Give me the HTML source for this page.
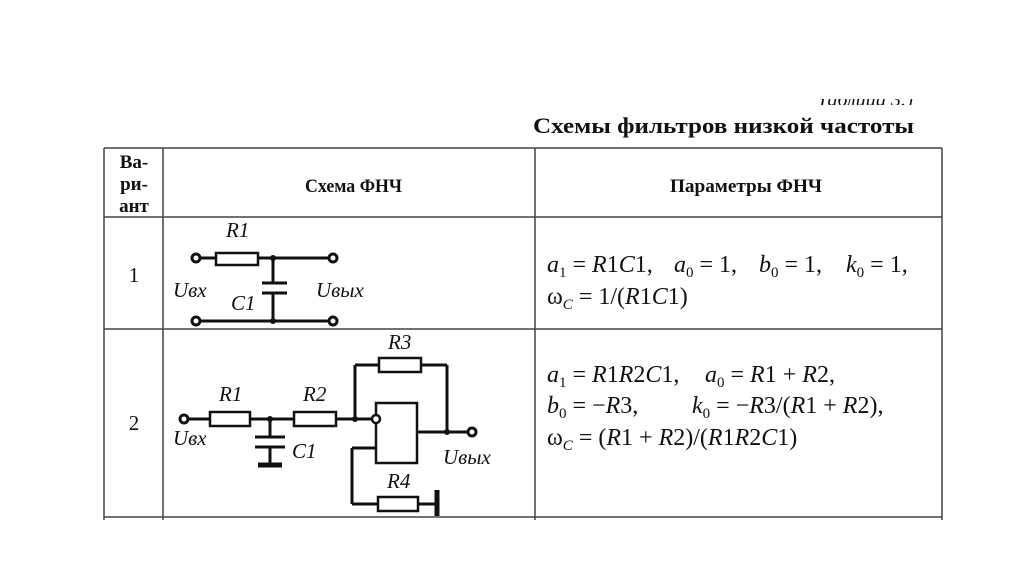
<!DOCTYPE html>
<html><head><meta charset="utf-8"><style>
html,body{margin:0;padding:0;background:#fff;}
svg{display:block;}
text{font-family:"Liberation Serif",serif;fill:#111;}
</style></head><body>
<svg width="1024" height="574" viewBox="0 0 1024 574" xmlns="http://www.w3.org/2000/svg">
<defs><clipPath id="cp"><rect x="700" y="99" width="300" height="6"/></clipPath></defs>
<text x="916" y="106" font-size="20" text-anchor="end" clip-path="url(#cp)" font-style="italic">Таблица 3.1</text>
<text x="533" y="133" font-size="22" font-weight="bold" textLength="381" lengthAdjust="spacingAndGlyphs">Схемы фильтров низкой частоты</text>
<g stroke="#444" stroke-width="1.5" fill="none">
<line x1="104" y1="148" x2="942" y2="148"/>
<line x1="104" y1="217" x2="942" y2="217"/>
<line x1="104" y1="329" x2="942" y2="329"/>
<line x1="104" y1="517" x2="942" y2="517"/>
<line x1="104" y1="148" x2="104" y2="520"/>
<line x1="163" y1="148" x2="163" y2="520"/>
<line x1="535" y1="148" x2="535" y2="520"/>
<line x1="942" y1="148" x2="942" y2="520"/>
</g>
<g font-size="19" font-weight="bold" text-anchor="middle">
<text x="134" y="168">Ва-</text><text x="134" y="190">ри-</text><text x="134" y="212">ант</text>
</g>
<g font-size="19" font-weight="bold">
<text x="305" y="192" textLength="97" lengthAdjust="spacingAndGlyphs">Схема ФНЧ</text>
<text x="670" y="192" textLength="152" lengthAdjust="spacingAndGlyphs">Параметры ФНЧ</text>
</g>
<text x="134" y="282" font-size="21" text-anchor="middle">1</text>
<text x="134" y="430" font-size="21" text-anchor="middle">2</text>
<!-- circuit 1 -->
<g stroke="#111" stroke-width="3" fill="none">
<line x1="200" y1="258" x2="216" y2="258"/>
<rect x="216" y="253" width="42" height="12" stroke-width="2.5"/>
<line x1="258" y1="258" x2="329" y2="258"/>
<line x1="273" y1="258" x2="273" y2="283"/>
<line x1="262" y1="283" x2="287" y2="283"/>
<line x1="262" y1="293" x2="287" y2="293"/>
<line x1="273" y1="293" x2="273" y2="321"/>
<line x1="200" y1="321" x2="329" y2="321"/>
<circle cx="196" cy="258" r="4" fill="#fff"/><circle cx="333" cy="258" r="4" fill="#fff"/>
<circle cx="196" cy="321" r="4" fill="#fff"/><circle cx="333" cy="321" r="4" fill="#fff"/>
</g>
<circle cx="273" cy="258" r="3" fill="#111"/><circle cx="273" cy="321" r="3" fill="#111"/>
<g font-size="21" font-style="italic">
<text x="226" y="237">R1</text>
<text x="173" y="297">Uвх</text>
<text x="231" y="310">C1</text>
<text x="316" y="297">Uвых</text>
</g>
<!-- circuit 2 -->
<g stroke="#111" stroke-width="3" fill="none">
<line x1="188" y1="419" x2="210" y2="419"/>
<rect x="210" y="412" width="40" height="14" stroke-width="2.5"/>
<line x1="250" y1="419" x2="294" y2="419"/>
<line x1="270" y1="419" x2="270" y2="437"/>
<line x1="255" y1="437" x2="285" y2="437"/>
<line x1="255" y1="447" x2="285" y2="447"/>
<line x1="270" y1="447" x2="270" y2="465"/>
<line x1="258" y1="465" x2="282" y2="465" stroke-width="5"/>
<rect x="294" y="412" width="42" height="14" stroke-width="2.5"/>
<line x1="336" y1="419" x2="372" y2="419"/>
<line x1="355" y1="419" x2="355" y2="365"/>
<line x1="355" y1="365" x2="379" y2="365"/>
<rect x="379" y="358" width="42" height="14" stroke-width="2.5"/>
<line x1="421" y1="365" x2="447" y2="365"/>
<line x1="447" y1="365" x2="447" y2="432"/>
<rect x="376" y="403" width="41" height="60" stroke-width="2.5"/>
<line x1="417" y1="432" x2="468" y2="432"/>
<line x1="376" y1="448" x2="352" y2="448"/>
<line x1="352" y1="448" x2="352" y2="504"/>
<line x1="352" y1="504" x2="378" y2="504"/>
<rect x="378" y="497" width="40" height="14" stroke-width="2.5"/>
<line x1="418" y1="504" x2="437" y2="504"/>
<line x1="437" y1="490" x2="437" y2="516" stroke-width="5"/>
<circle cx="184" cy="419" r="4" fill="#fff"/>
<circle cx="376" cy="419" r="4" fill="#fff" stroke-width="2.5"/>
<circle cx="472" cy="432" r="4" fill="#fff"/>
</g>
<circle cx="270" cy="419" r="3" fill="#111"/><circle cx="355" cy="419" r="3" fill="#111"/><circle cx="447" cy="432" r="3" fill="#111"/>
<g font-size="21" font-style="italic">
<text x="219" y="401">R1</text>
<text x="303" y="401">R2</text>
<text x="388" y="349">R3</text>
<text x="387" y="488">R4</text>
<text x="173" y="445">Uвх</text>
<text x="292" y="458">C1</text>
<text x="443" y="464">Uвых</text>
</g>
<!-- formulas -->
<g font-size="24">
<text x="547" y="272"><tspan font-style="italic">a</tspan><tspan font-size="15" dy="5">1</tspan><tspan dy="-5"> = </tspan><tspan font-style="italic">R</tspan>1<tspan font-style="italic">C</tspan>1,</text>
<text x="674" y="272"><tspan font-style="italic">a</tspan><tspan font-size="15" dy="5">0</tspan><tspan dy="-5"> = 1,</tspan></text>
<text x="759" y="272"><tspan font-style="italic">b</tspan><tspan font-size="15" dy="5">0</tspan><tspan dy="-5"> = 1,</tspan></text>
<text x="846" y="272"><tspan font-style="italic">k</tspan><tspan font-size="15" dy="5">0</tspan><tspan dy="-5"> = 1,</tspan></text>
<text x="547" y="304">ω<tspan font-size="15" font-style="italic" dy="5">C</tspan><tspan dy="-5"> = 1/(</tspan><tspan font-style="italic">R</tspan>1<tspan font-style="italic">C</tspan>1)</text>
<text x="547" y="382"><tspan font-style="italic">a</tspan><tspan font-size="15" dy="5">1</tspan><tspan dy="-5"> = </tspan><tspan font-style="italic">R</tspan>1<tspan font-style="italic">R</tspan>2<tspan font-style="italic">C</tspan>1,</text>
<text x="705" y="382"><tspan font-style="italic">a</tspan><tspan font-size="15" dy="5">0</tspan><tspan dy="-5"> = </tspan><tspan font-style="italic">R</tspan>1 + <tspan font-style="italic">R</tspan>2,</text>
<text x="547" y="413"><tspan font-style="italic">b</tspan><tspan font-size="15" dy="5">0</tspan><tspan dy="-5"> = −</tspan><tspan font-style="italic">R</tspan>3,</text>
<text x="692" y="413"><tspan font-style="italic">k</tspan><tspan font-size="15" dy="5">0</tspan><tspan dy="-5"> = −</tspan><tspan font-style="italic">R</tspan>3/(<tspan font-style="italic">R</tspan>1 + <tspan font-style="italic">R</tspan>2),</text>
<text x="547" y="445">ω<tspan font-size="15" font-style="italic" dy="5">C</tspan><tspan dy="-5"> = (</tspan><tspan font-style="italic">R</tspan>1 + <tspan font-style="italic">R</tspan>2)/(<tspan font-style="italic">R</tspan>1<tspan font-style="italic">R</tspan>2<tspan font-style="italic">C</tspan>1)</text>
</g>
</svg>
</body></html>
